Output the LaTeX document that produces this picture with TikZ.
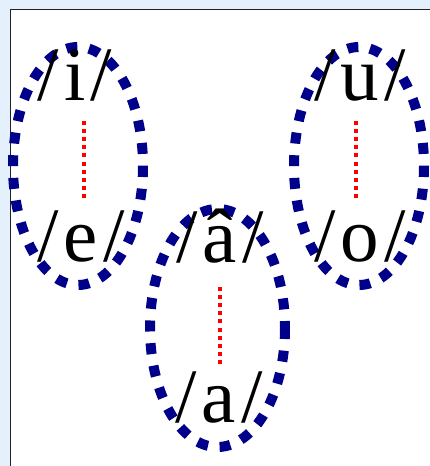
\documentclass[tikz,border=0pt]{standalone}
\usepackage{fontspec}
\setmainfont{Liberation Serif}
\definecolor{bgblue}{HTML}{E4F1FD}
\definecolor{navy}{HTML}{00008B}
\definecolor{framegray}{HTML}{222222}
\begin{document}
\begin{tikzpicture}[x=1pt,y=-1pt,
  vowel/.style={inner sep=0pt,anchor=base,font=\fontsize{77}{82}\selectfont},
  ring/.style={draw=navy,line width=10pt,dash pattern=on 11pt off 11.7pt},
  link/.style={draw=red,line width=3.5pt,dash pattern=on 4pt off 4.1pt}]
\useasboundingbox (0,0) rectangle (430,466);
\fill[bgblue] (0,0) rectangle (430,466);
\draw[fill=white,draw=framegray,line width=1.6pt] (10.5,9.5) rectangle (440,480);
% ellipses
\draw[ring] (78,166) ellipse [x radius=65, y radius=119];
\draw[ring] (359,166) ellipse [x radius=65, y radius=119];
\draw[ring] (217.5,328) ellipse [x radius=67.5, y radius=119];
% texts
\node[vowel] (i) at (75,100) {/\kern5pt i\kern5pt/};
\node[vowel] (e) at (81,261) {/\kern5pt e\kern5pt/};
\node[vowel] (u) at (360,100) {/\kern5pt u\kern5pt/};
\node[vowel] (o) at (360,261) {/\kern5pt o\kern5pt/};
\node[vowel] (ah) at (220,262) {/\kern5pt â\kern5pt/};
\node[vowel] (a) at (219,422) {/\kern5pt a\kern5pt/};
% red links
\coordinate (l1) at (84,121);
\coordinate (l2) at (84,199);
\coordinate (r1) at (356,121);
\coordinate (r2) at (356,199);
\coordinate (m1) at (220,287);
\coordinate (m2) at (220,365);
\draw[link] (l1) -- (l2);
\draw[link] (r1) -- (r2);
\draw[link] (m1) -- (m2);
\end{tikzpicture}
\end{document}
